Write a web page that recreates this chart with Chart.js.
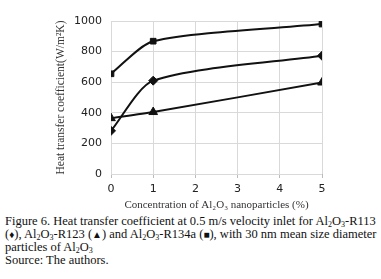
<!DOCTYPE html>
<html lang="en">
<head>
    <meta charset="UTF-8">
    <title>Heat transfer coefficient</title>
    <script src="https://cdn.jsdelivr.net/npm/chart.js"></script>
    <style>
        body {
            margin: 0;
            background: #fff;
            width: 381px;
            height: 279px;
            overflow: hidden;
        }

        .chart-box {
            position: relative;
            width: 381px;
            height: 213px;
        }

        .caption {
            font-family: 'Liberation Serif', 'Times New Roman', serif;
            font-size: 12.5px;
            line-height: 13px;
            color: #111;
            padding-left: 5px;
            margin-top: 2px;
            white-space: nowrap;
        }

        .caption sub {
            font-size: 8px;
            line-height: 0;
            vertical-align: -2px;
        }

        .caption .sym {
            font-size: 10px;
            line-height: 0;
        }
    </style>
</head>
<body>
    <div class="chart-box">
        <canvas id="chart"></canvas>
    </div>
    <div class="caption">
        Figure 6. Heat transfer coefficient at 0.5 m/s velocity inlet for Al<sub>2</sub>O<sub>3</sub>-R113<br>
        (<span class="sym">&#9830;</span>), Al<sub>2</sub>O<sub>3</sub>-R123 (<span class="sym">&#9650;</span>) and Al<sub>2</sub>O<sub>3</sub>-R134a (<span class="sym">&#9632;</span>), with 30 nm mean size diameter<br>
        particles of Al<sub>2</sub>O<sub>3</sub><br>
        Source: The authors.
    </div>

    <script>
        // concentracion (%)
        const concentration = [0, 1, 5];
        const r134a = [655, 868, 980];   // cuadrados
        const r113 = [282, 610, 773];    // rombos
        const r123 = [365, 405, 598];    // triangulos
        const yTicks = [0, 200, 400, 600, 800, 1000];

        function toPoints(values) {
            return concentration.map((c, i) => ({ x: c, y: values[i] }));
        }

        function makeSet(label, values, style, radius) {
            return {
                label,
                data: toPoints(values),
                borderColor: '#111',
                backgroundColor: '#111',
                borderWidth: 2,
                pointStyle: style,
                pointRadius: radius,
                pointBorderWidth: 1,
                tension: 0.25,
                fill: false
            };
        }

        const ctx = document.getElementById('chart').getContext('2d');
        new Chart(ctx, {
            type: 'line',
            data: {
                datasets: [
                    makeSet('Al2O3-R134a', r134a, 'rect', 4),
                    makeSet('Al2O3-R113', r113, 'rectRot', 4.5),
                    makeSet('Al2O3-R123', r123, 'triangle', 5)
                ]
            },
            options: {
                responsive: true,
                maintainAspectRatio: false,
                animation: false,
                layout: { padding: { left: 50, right: 59, top: 21, bottom: 0 } },
                plugins: {
                    legend: { display: false },
                    tooltip: { enabled: false }
                },
                scales: {
                    x: {
                        type: 'linear',
                        min: 0,
                        max: 5,
                        ticks: {
                            stepSize: 1,
                            color: '#222',
                            font: { family: 'DejaVu Sans', size: 11 },
                            padding: 5
                        },
                        grid: { color: '#d9d9d9', tickLength: 4, tickColor: '#bbb' },
                        border: { display: false },
                        title: {
                            display: true,
                            text: 'Concentration of Al\u2082O\u2083 nanoparticles (%)',
                            color: '#333',
                            font: { family: 'Liberation Serif', size: 11 },
                            padding: { top: 2, bottom: 1 }
                        },
                        afterFit: scale => { scale.height = 39; }
                    },
                    y: {
                        min: 0,
                        max: 1000,
                        afterBuildTicks: scale => { scale.ticks = yTicks.map(v => ({ value: v })); },
                        ticks: {
                            color: '#222',
                            font: { family: 'DejaVu Sans', size: 11 },
                            padding: 9,
                            callback: v => String(v)
                        },
                        grid: { color: '#d9d9d9', tickLength: 0 },
                        border: { display: false },
                        title: {
                            display: true,
                            text: 'Heat transfer coefficient(W/m\u00b2K)',
                            color: '#333',
                            font: { family: 'Liberation Serif', size: 11.5 },
                            padding: { top: 4, bottom: 0 }
                        },
                        afterFit: scale => { scale.width = 61; }
                    }
                }
            }
        });
    </script>
</body>
</html>
